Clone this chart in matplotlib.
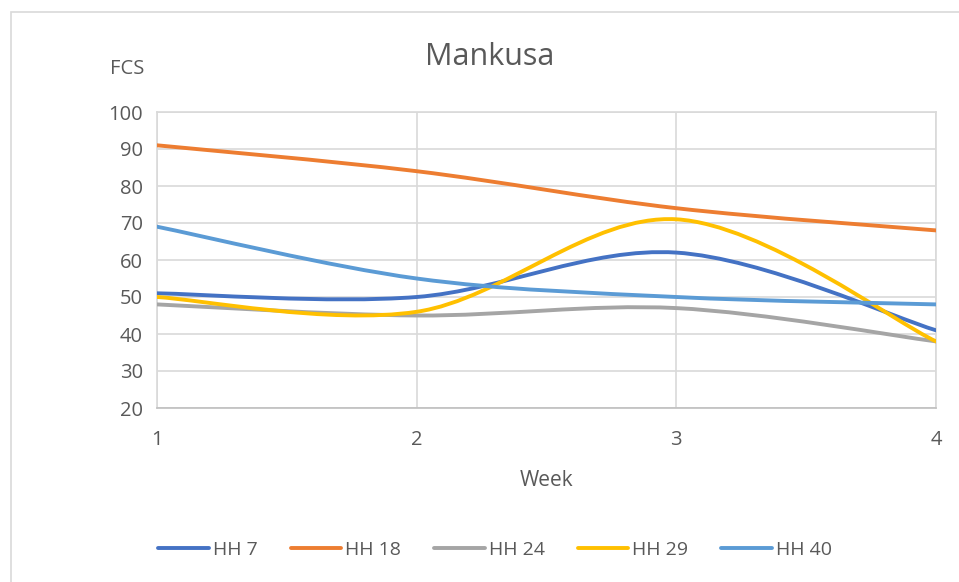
import numpy as np
import matplotlib.pyplot as plt
from matplotlib.path import Path
from matplotlib.patches import PathPatch, Rectangle
from matplotlib.lines import Line2D

weeks = [1, 2, 3, 4]
series_names = ['HH 7', 'HH 18', 'HH 24', 'HH 29', 'HH 40']
hh7 = [51, 50, 62, 41]
hh18 = [91, 84, 74, 68]
hh24 = [48, 45, 47, 38]
hh29 = [50, 46, 71, 38]
hh40 = [69, 55, 50, 48]
colors = ['#4472C4', '#ED7D31', '#A5A5A5', '#FFC000', '#5B9BD5']

plt.rcParams['font.family'] = ['Open Sans', 'DejaVu Sans']
txt = '#595959'


def smooth_path(x, y):
    # Excel style smoothing: cubic bezier through the points (Catmull-Rom)
    p = np.column_stack([x, y]).astype(float)
    pts = np.vstack([p[0], p, p[-1]])
    verts = [p[0]]
    codes = [Path.MOVETO]
    for i in range(1, len(pts) - 2):
        p0, p1, p2, p3 = pts[i - 1], pts[i], pts[i + 1], pts[i + 2]
        c1 = p1 + (p2 - p0) / 6.
        c2 = p2 - (p3 - p1) / 6.
        verts += [c1, c2, p2]
        codes += [Path.CURVE4] * 3
    return Path(verts, codes)


fig = plt.figure(figsize=(9.59, 5.82), dpi=100)
ax = fig.add_axes([157 / 959, 1 - 408 / 582, (936 - 157) / 959, (408 - 112) / 582])

# outer chart border
fig.patches.append(Rectangle((11 / 959, -0.1), 1.2, 1 - 12 / 582 + 0.1, transform=fig.transFigure,
                             fill=False, edgecolor='#D9D9D9', lw=1.2))

for name, vals, c in zip(series_names, [hh7, hh18, hh24, hh29, hh40], colors):
    ax.add_patch(PathPatch(smooth_path(weeks, vals), fill=False, edgecolor=c, lw=2.8,
                           capstyle='round', joinstyle='round', zorder=3))

ax.set_xlim(1, 4)
ax.set_ylim(20, 100)
ax.set_xticks(weeks)
ax.set_yticks(range(20, 101, 10))
ax.grid(True, color='#D9D9D9', lw=1.2)
ax.set_axisbelow(True)
for s in ax.spines.values():
    s.set_color('#D9D9D9')
    s.set_linewidth(1.2)
ax.spines['bottom'].set_color('#BFBFBF')
ax.tick_params(length=0, labelsize=14.5, labelcolor=txt)
ax.tick_params(axis='x', pad=16)
ax.tick_params(axis='y', pad=10)

fig.text(490 / 959, 1 - 57 / 582, 'Mankusa', ha='center', va='center', fontsize=22, color=txt)
fig.text(127 / 959, 1 - 69 / 582, 'FCS', ha='center', va='center', fontsize=14.5, color=txt)
fig.text(547 / 959, 1 - 481 / 582, 'Week', ha='center', va='center', fontsize=15, color=txt)

handles = [Line2D([], [], color=c, lw=2.8, solid_capstyle='round') for c in colors]
fig.legend(handles, series_names, loc='center', bbox_to_anchor=(495 / 959, 1 - 550 / 582),
           ncol=5, frameon=False, fontsize=14, labelcolor=txt, handlelength=2.6,
           handletextpad=0.2, columnspacing=1.7)

fig.savefig('out.png', dpi=100)
